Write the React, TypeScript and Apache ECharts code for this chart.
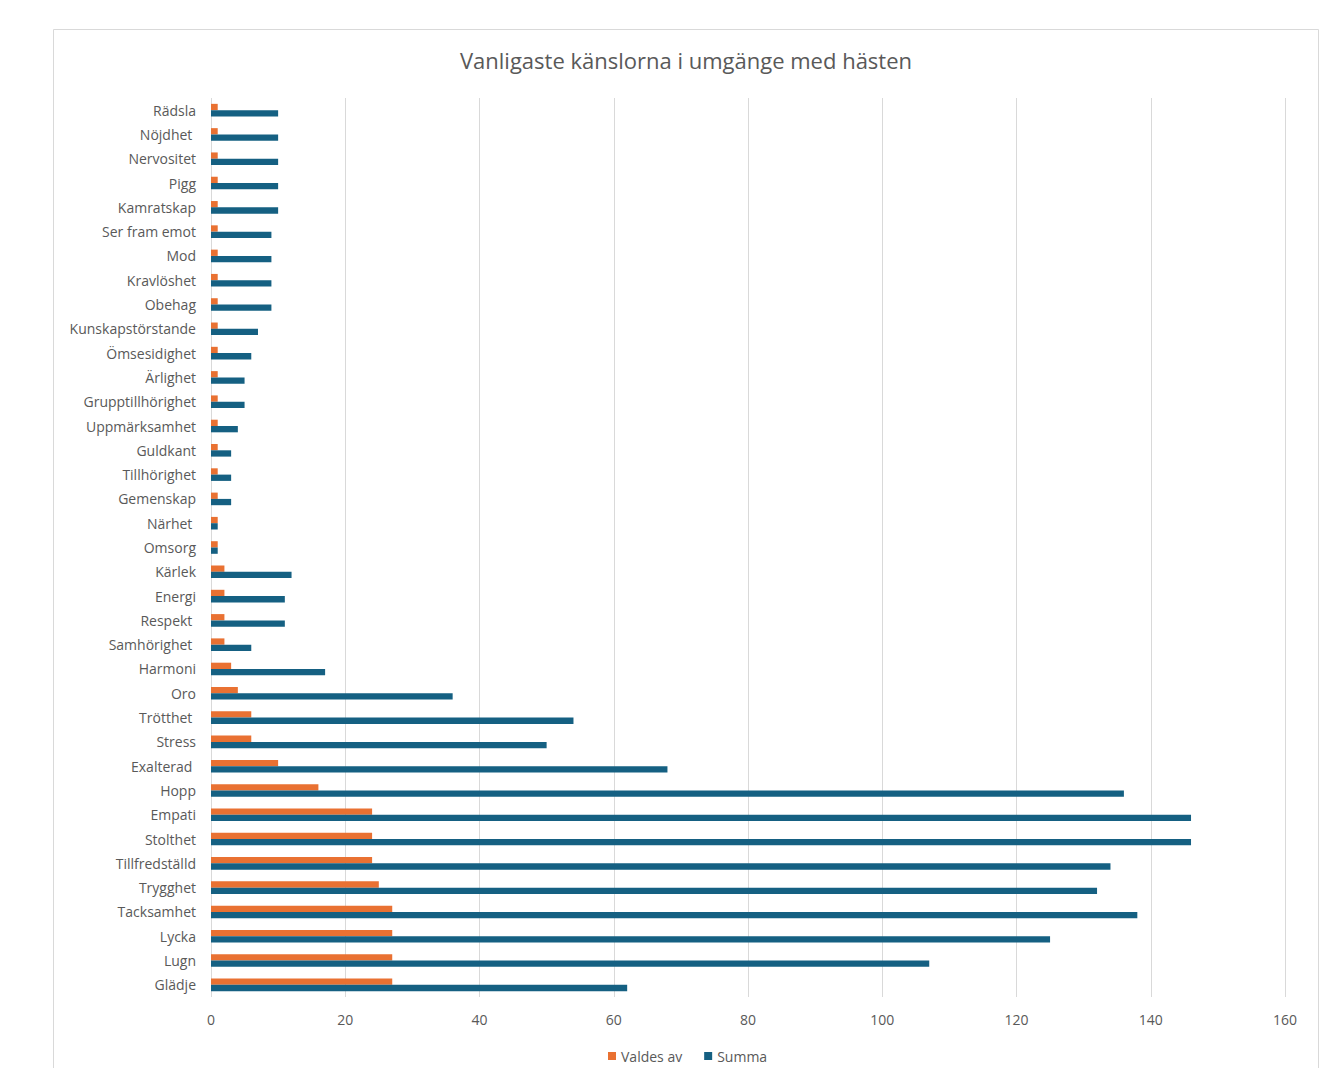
import React, { useEffect, useRef } from "react";
import * as echarts from "echarts";

const categories = [
  "Rädsla", "Nöjdhet ", "Nervositet", "Pigg", "Kamratskap", "Ser fram emot", "Mod",
  "Kravlöshet", "Obehag", "Kunskapstörstande", "Ömsesidighet", "Ärlighet",
  "Grupptillhörighet", "Uppmärksamhet", "Guldkant", "Tillhörighet", "Gemenskap",
  "Närhet ", "Omsorg", "Kärlek", "Energi", "Respekt ", "Samhörighet ", "Harmoni",
  "Oro", "Trötthet ", "Stress", "Exalterad ", "Hopp", "Empati", "Stolthet",
  "Tillfredställd", "Trygghet", "Tacksamhet", "Lycka", "Lugn", "Glädje",
];

const valdesAv = [
  1, 1, 1, 1, 1, 1, 1, 1, 1, 1, 1, 1, 1, 1, 1, 1, 1, 1, 1,
  2, 2, 2, 2, 3, 4, 6, 6, 10, 16, 24, 24, 24, 25, 27, 27, 27, 27,
];

const summa = [
  10, 10, 10, 10, 10, 9, 9, 9, 9, 7, 6, 5, 5, 4, 3, 3, 3, 1, 1,
  12, 11, 11, 6, 17, 36, 54, 50, 68, 136, 146, 146, 134, 132, 138, 125, 107, 62,
];

const xTicks = { min: 0, max: 160, interval: 20 };

const FONT = "'Open Sans', 'Noto Sans', sans-serif";
const TEXT = "#595959";

export default function App() {
  const ref = useRef<HTMLDivElement>(null);
  useEffect(() => {
    if (!ref.current) return;
    const chart = echarts.init(ref.current, null, { renderer: "svg" });
    chart.setOption({
      animation: false,
      backgroundColor: "#ffffff",
      textStyle: { fontFamily: FONT },
      title: {
        text: "Vanligaste känslorna i umgänge med hästen",
        left: 681,
        textAlign: "center",
        top: 44,
        textStyle: { fontFamily: FONT, fontSize: 22, fontWeight: "normal", color: TEXT },
      },
      graphic: [
        {
          type: "rect",
          shape: { x: 53.5, y: 29.5, width: 1265, height: 1100 },
          style: { fill: "none", stroke: "#d9d9d9", lineWidth: 1 },
          silent: true,
        },
      ],
      legend: {
        data: ["Valdes av", "Summa"],
        bottom: 0,
        left: 603,
        icon: "rect",
        itemWidth: 8,
        itemHeight: 8,
        itemGap: 22,
        textStyle: { fontFamily: FONT, fontSize: 14, color: TEXT },
      },
      grid: { left: 211, right: 44, top: 98, bottom: 71, containLabel: false },
      xAxis: {
        type: "value",
        min: xTicks.min,
        max: xTicks.max,
        interval: xTicks.interval,
        axisLine: { show: false },
        axisTick: { show: false },
        axisLabel: { color: TEXT, fontSize: 14, margin: 15, fontFamily: FONT },
        splitLine: { lineStyle: { color: "#d9d9d9", width: 1 } },
      },
      yAxis: {
        type: "category",
        data: categories,
        inverse: true,
        axisLine: { show: false },
        axisTick: { show: false },
        axisLabel: { color: TEXT, fontSize: 14, margin: 15, fontFamily: FONT },
        splitLine: { show: false },
      },
      series: [
        {
          name: "Valdes av",
          type: "bar",
          data: valdesAv,
          barWidth: 6.3,
          barGap: "0%",
          itemStyle: { color: "#E97132" },
        },
        {
          name: "Summa",
          type: "bar",
          data: summa,
          barWidth: 6.3,
          barGap: "0%",
          itemStyle: { color: "#156082" },
        },
      ],
    });
    return () => chart.dispose();
  }, []);
  return (
    <div
      ref={ref}
      style={{ position: "absolute", left: 0, top: 0, width: 1329, height: 1068 }}
    />
  );
}
